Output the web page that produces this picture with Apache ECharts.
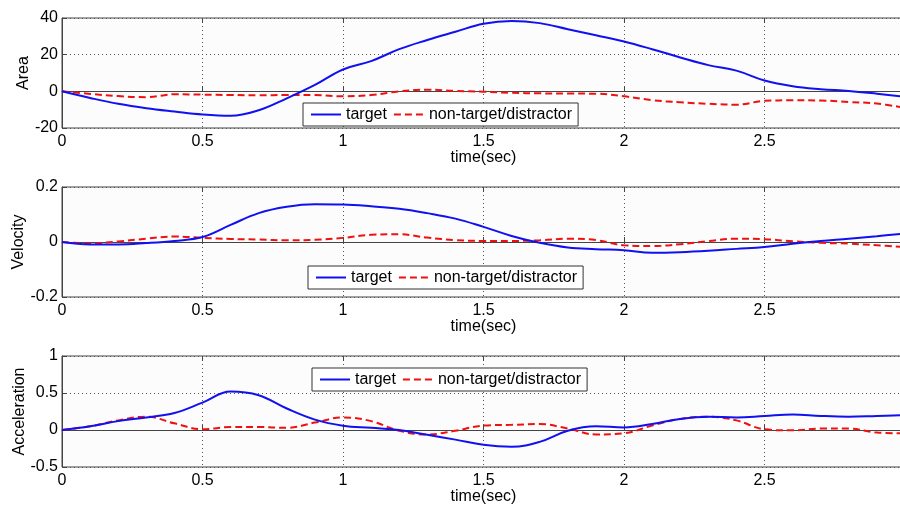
<!DOCTYPE html>
<html>
<head>
<meta charset="utf-8">
<script src="https://cdn.jsdelivr.net/npm/echarts@6/dist/echarts.min.js"></script>
<style>
  html, body { margin: 0; padding: 0; background: #fff; }
  #chart { width: 900px; height: 506px; }
</style>
</head>
<body>
<div id="chart"></div>
<script>
// time samples (sec)
const time = [0, 0.1, 0.2, 0.3, 0.4, 0.5, 0.6, 0.7, 0.8, 0.9, 1.0,
  1.1, 1.2, 1.3, 1.4, 1.5, 1.6, 1.7, 1.8, 1.9, 2.0,
  2.1, 2.2, 2.3, 2.4, 2.5, 2.6, 2.7, 2.8, 2.9, 3.0]

// Area
const areaTarget = [0, -3.6, -6.8, -9.2, -11.0, -12.6, -13.3, -10.3, -3.8, 3.5, 11.9,
  16.5, 23, 28, 32.5, 36.9, 38.4, 37.2, 33.9, 30.6, 27.2,
  23, 18.5, 14.3, 11.3, 5.9, 2.8, 1.2, 0.2, -1.3, -3]
const areaDistractor = [0, -1.4, -2.6, -3.2, -1.6, -1.8, -2.0, -2.2, -2.0, -2.0, -2.7,
  -2.0, 0, 0.9, 0.2, -0.2, -0.8, -1.1, -1.2, -1.3, -2.7,
  -4.8, -6.0, -6.8, -7.3, -5.2, -4.9, -5.0, -5.8, -6.7, -9]

// Velocity
const velTarget = [0, -0.009, -0.009, -0.004, 0.004, 0.018, 0.062, 0.105, 0.128, 0.137, 0.136,
  0.13, 0.121, 0.105, 0.085, 0.055, 0.022, -0.003, -0.020, -0.026, -0.030,
  -0.039, -0.037, -0.032, -0.025, -0.018, -0.006, 0.004, 0.012, 0.021, 0.031]
const velDistractor = [0, -0.005, 0.002, 0.012, 0.02, 0.015, 0.011, 0.009, 0.006, 0.008, 0.015,
  0.026, 0.028, 0.016, 0.007, 0.004, 0.004, 0.006, 0.012, 0.007, -0.012,
  -0.015, -0.008, 0.003, 0.012, 0.010, 0.003, -0.003, -0.006, -0.012, -0.018]

// Acceleration
const accTarget = [0, 0.05, 0.12, 0.17, 0.23, 0.37, 0.52, 0.47, 0.29, 0.14, 0.058,
  0.03, 0.0, -0.065, -0.13, -0.20, -0.225, -0.16, -0.01, 0.05, 0.035,
  0.08, 0.15, 0.18, 0.17, 0.19, 0.21, 0.19, 0.18, 0.19, 0.2]
const accDistractor = [0, 0.05, 0.13, 0.18, 0.09, 0.01, 0.04, 0.04, 0.03, 0.1, 0.17,
  0.12, -0.01, -0.06, -0.01, 0.06, 0.07, 0.08, 0.02, -0.06, -0.045,
  0.06, 0.15, 0.18, 0.13, 0.01, -0.005, 0.02, 0.02, -0.035, -0.045]

const xTicks = [0, 0.5, 1, 1.5, 2, 2.5, 3]

const panels = [
  {name: 'Area', min: -20, max: 40, step: 20, target: areaTarget, other: areaDistractor, top: 18, height: 110, gap: 30, legend: [303, 103]},
  {name: 'Velocity', min: -0.2, max: 0.2, step: 0.2, target: velTarget, other: velDistractor, top: 187, height: 110, gap: 35, legend: [308, 266]},
  {name: 'Acceleration', min: -0.5, max: 1, step: 0.5, target: accTarget, other: accDistractor, top: 356, height: 111, gap: 34, legend: [312, 368]}
]

const font = 'Liberation Sans, Arial, Helvetica, sans-serif'
const pairs = (ys) => time.map((t, i) => [t, ys[i]])

const grid = []
const xAxis = []
const yAxis = []
const series = []
const legend = []

panels.forEach((p, i) => {
  grid.push({
    left: 62, right: -5, top: p.top, height: p.height,
    containLabel: false, outerBoundsMode: 'none',
    show: true, borderColor: '#444', borderWidth: 1, backgroundColor: '#fcfcfc'
  })
  xAxis.push({
    type: 'value', gridIndex: i, min: 0, max: 3, interval: 0.5,
    name: 'time(sec)', nameLocation: 'middle', nameGap: 22, nameMoveOverlap: false,
    nameTextStyle: {color: '#000', fontSize: 16, fontFamily: font},
    axisLine: {show: true, lineStyle: {color: '#444'}},
    axisTick: {inside: true, length: 5, lineStyle: {color: '#444'}},
    axisLabel: {color: '#000', fontSize: 16, fontFamily: font, margin: 6,
      formatter: v => xTicks.indexOf(v) >= 0 ? String(v) : ''},
    splitLine: {show: true, lineStyle: {color: '#555', type: [1, 3], width: 1}}
  })
  yAxis.push({
    type: 'value', gridIndex: i, min: p.min, max: p.max, interval: p.step,
    name: p.name, nameLocation: 'middle', nameGap: p.gap, nameRotate: 90, nameMoveOverlap: false,
    nameTextStyle: {color: '#000', fontSize: 16, fontFamily: font},
    axisLine: {show: true, lineStyle: {color: '#444'}},
    axisTick: {show: true, inside: true, length: 5, lineStyle: {color: '#444'}},
    axisLabel: {color: '#000', fontSize: 16, fontFamily: font, margin: 4},
    splitLine: {show: true, lineStyle: {color: '#555', type: [1, 3], width: 1}}
  })
  series.push({
    name: 'target', type: 'line', xAxisIndex: i, yAxisIndex: i,
    data: pairs(p.target), smooth: 0.4, symbol: 'none', z: 3,
    lineStyle: {color: '#1010f0', width: 2},
    itemStyle: {color: '#1010f0'}
  })
  series.push({
    name: 'non-target/distractor', type: 'line', xAxisIndex: i, yAxisIndex: i,
    data: pairs(p.other), smooth: 0.4, symbol: 'none', z: 2,
    lineStyle: {color: '#f01010', width: 2, type: [7, 4]},
    itemStyle: {color: '#f01010'}
  })
  legend.push({
    left: p.legend[0], top: p.legend[1], orient: 'horizontal',
    data: ['target', 'non-target/distractor'],
    itemWidth: 30, itemHeight: 12, itemGap: 6,
    padding: [3, 6, 3, 7],
    itemStyle: {opacity: 0},
    borderColor: '#333', borderWidth: 1, backgroundColor: '#fff',
    textStyle: {color: '#000', fontSize: 16, fontFamily: font, lineHeight: 17},
    selectedMode: false
  })
})

// top ticks of each box
panels.forEach((p, i) => {
  xAxis.push({
    type: 'value', gridIndex: i, position: 'top', min: 0, max: 3, interval: 0.5,
    axisLine: {show: false},
    axisTick: {show: true, inside: true, length: 5, lineStyle: {color: '#444'}},
    axisLabel: {show: false}, splitLine: {show: false}
  })
})

const chart = echarts.init(document.getElementById('chart'), null, {renderer: 'canvas'})
chart.setOption({
  backgroundColor: '#fff',
  animation: false,
  grid, xAxis, yAxis, series, legend
})
</script>
</body>
</html>
